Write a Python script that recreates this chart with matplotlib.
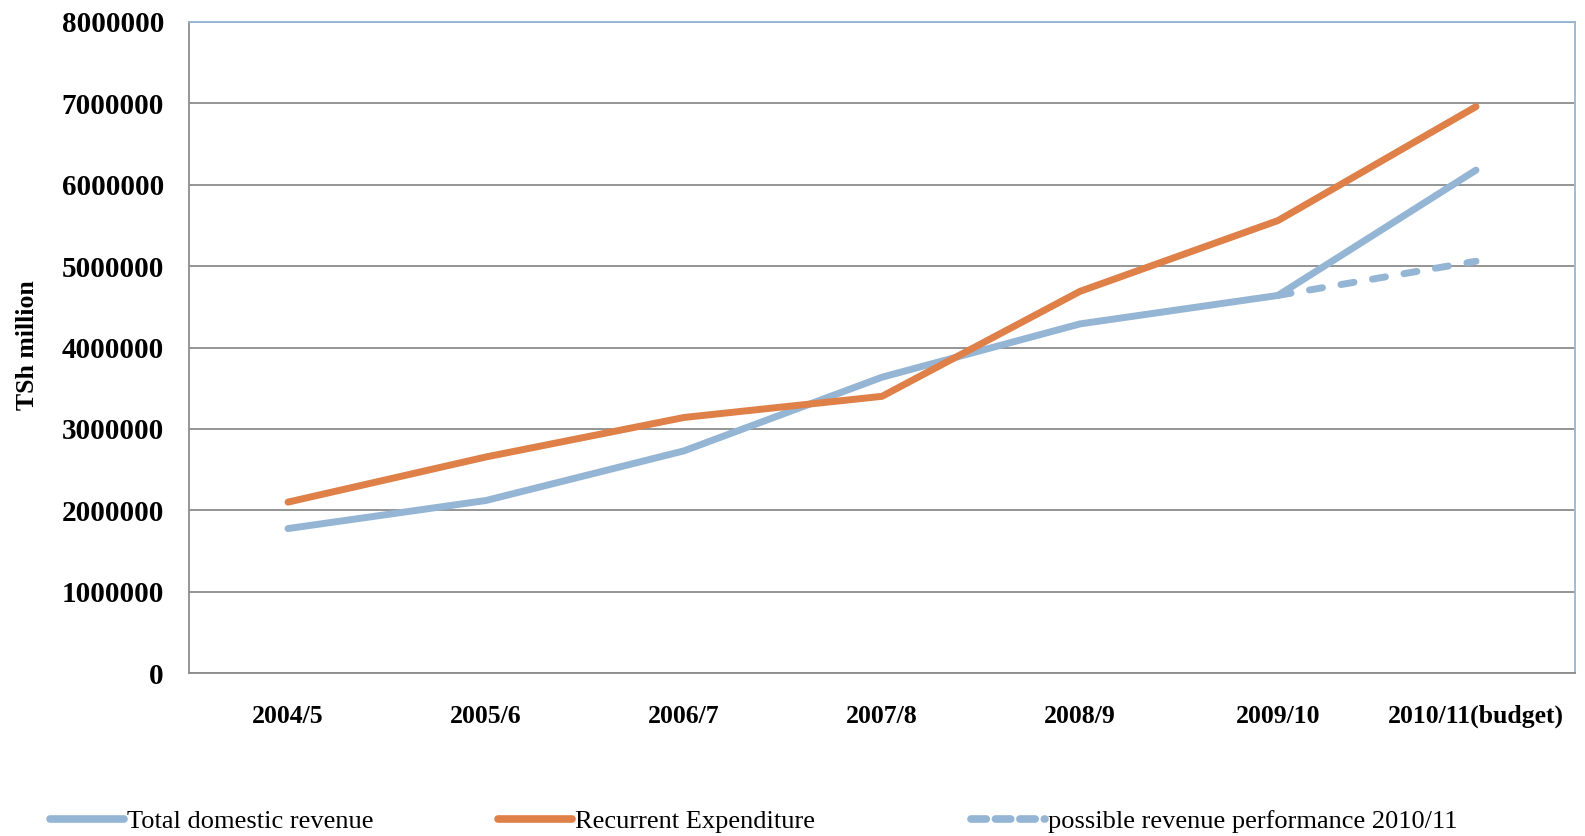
import matplotlib
matplotlib.use("Agg")
import matplotlib.pyplot as plt
from matplotlib.lines import Line2D

years = ["2004/5", "2005/6", "2006/7", "2007/8", "2008/9", "2009/10", "2010/11(budget)"]
revenue = [1775000, 2120000, 2730000, 3635000, 4290000, 4640000, 6180000]
expenditure = [2100000, 2655000, 3140000, 3400000, 4690000, 5560000, 6960000]
possible_years = ["2009/10", "2010/11(budget)"]
possible_revenue = [4640000, 5060000]

BLUE = "#95B5D5"
ORANGE = "#DF8048"
GRID = "#8C8C8C"

plt.rcParams["font.family"] = ["Liberation Serif", "DejaVu Serif"]

fig = plt.figure(figsize=(15.85, 8.36), dpi=100)
ax = fig.add_axes([189 / 1585, 1 - 673 / 836, (1575 - 189) / 1585, (673 - 22) / 836])

x = list(range(len(years)))
px = [years.index(y) for y in possible_years]
ax.plot(x, revenue, color=BLUE, lw=5, solid_capstyle="round", solid_joinstyle="round", zorder=3)
ax.plot(x, expenditure, color=ORANGE, lw=5, solid_capstyle="round", solid_joinstyle="round", zorder=3)
ax.plot(px, possible_revenue, color=BLUE, lw=5, dashes=(1.9, 2.7), dash_capstyle="round", zorder=2)

ax.set_xlim(-0.5, len(years) - 0.5)
ax.set_ylim(0, 8000000)
ax.set_yticks(range(0, 8000001, 1000000))
ax.set_yticklabels([str(v) for v in range(0, 8000001, 1000000)])
ax.set_xticks(x)
ax.set_xticklabels(years)
ax.tick_params(axis="y", length=0, pad=18, labelsize=21)
ax.tick_params(axis="x", length=0, pad=23, labelsize=18.5)
for lab in ax.get_xticklabels() + ax.get_yticklabels():
    lab.set_fontweight("bold")

ax.yaxis.grid(True, color=GRID, lw=1.3)
ax.set_axisbelow(True)
ax.spines["left"].set_color(GRID)
ax.spines["bottom"].set_color(GRID)
ax.spines["top"].set_color(BLUE)
ax.spines["right"].set_color(BLUE)
for s in ax.spines.values():
    s.set_linewidth(1.3)

fig.text(28 / 1585, 1 - 345 / 836, "TSh million", rotation=90, fontsize=18.5,
         fontweight="bold", ha="center", va="center")

entries = [
    (Line2D([], [], color=BLUE, lw=5.5, solid_capstyle="round"), "Total domestic revenue", 50),
    (Line2D([], [], color=ORANGE, lw=5.5, solid_capstyle="round"), "Recurrent Expenditure", 498),
    (Line2D([], [], color=BLUE, lw=5.5, dashes=(2.0, 1.2), dash_capstyle="round"),
     "possible revenue performance 2010/11", 971),
]
for handle, label, left in entries:
    fig.legend([handle], [label], loc="center left", bbox_to_anchor=(left / 1585, 1 - 821 / 836),
               frameon=False, fontsize=19, handlelength=2.8, handletextpad=0.1,
               borderaxespad=0, borderpad=0)

fig.savefig("out.png", dpi=100)
